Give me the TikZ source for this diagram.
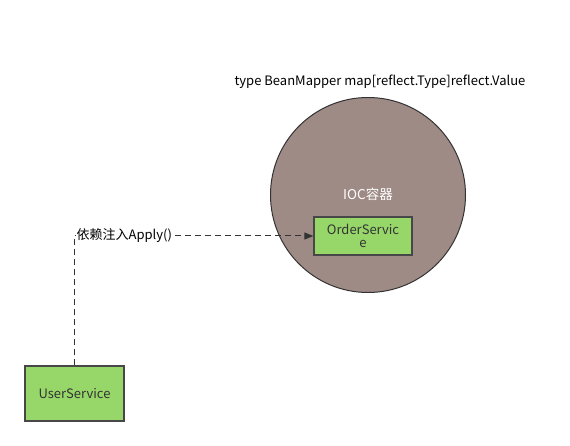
\documentclass[tikz,border=0pt]{standalone}
\usepackage{fontspec}
\setmainfont{Noto Sans CJK SC}
\usetikzlibrary{shapes,positioning,calc,arrows.meta}

\definecolor{iocfill}{RGB}{158,139,134}
\definecolor{svcfill}{RGB}{151,215,106}
\definecolor{edge}{RGB}{51,51,51}

\begin{document}
\begin{tikzpicture}[x=1pt, y=-1pt, font=\fontsize{13}{15}\selectfont,
    svc/.style={rectangle, draw=edge!90, line width=1.3pt, fill=svcfill,
      text=edge, align=center, inner sep=0pt},
    link/.style={dashed, dash pattern=on 6pt off 4pt, line width=1pt, draw=edge,
      -{Triangle[length=9pt,width=7pt]}}
  ]
    \useasboundingbox (0,0) rectangle (570,446);

    % container
    \node [circle, draw=edge, line width=1pt, fill=iocfill,
      minimum size=195pt, inner sep=0pt] (ioc) at (368,195) {};
    \node [text=white, font=\fontsize{13.5}{15}\selectfont] (ioclabel) at (368,194) {IOC容器};
    \node (mapper) at (380,82) {type BeanMapper map[reflect.Type]reflect.Value};

    \node [svc, minimum width=98pt, minimum height=38pt] (order) at (363,236)
      {OrderServic\\[-2pt]e};
    \node [svc, minimum width=99pt, minimum height=55pt] (user) at (74.5,393.5)
      {UserService};

    % injection
    \coordinate (bend) at (user.north |- order.west);
    \draw [link] (user.north) -- (bend) -- (order.west);
    \node [right, fill=white, inner xsep=1pt, inner ysep=1pt, xshift=1pt] (inject) at (bend)
      {依赖注入Apply()};
  \end{tikzpicture}
\end{document}
